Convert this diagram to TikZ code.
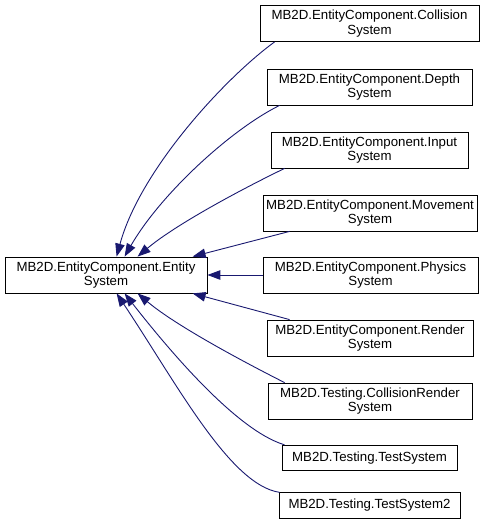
\documentclass[tikz,border=0pt]{standalone}
\usepackage{fontspec}
\setmainfont{Liberation Sans}
\usetikzlibrary{arrows.meta,calc}
\definecolor{edgeblue}{HTML}{191970}
\begin{document}
\begin{tikzpicture}[x=1bp,y=-1bp,
  box/.style={draw=black,line width=0.8bp,fill=white,inner sep=0pt,align=center,
    font=\fontsize{13.3}{14.5}\selectfont,minimum height=36bp},
  onebox/.style={box,minimum height=25.5bp},
  edge/.style={draw=edgeblue,line width=0.9bp,{Triangle[length=13bp,width=9.5bp]}-}]
\useasboundingbox (0,0) rectangle (490,524);
\node[box,minimum width=202bp] (base) at (106,275) {MB2D.EntityComponent.Entity\\System};
\node[box,minimum width=219bp] (c1) at (369.5,23.5) {MB2D.EntityComponent.Collision\\System};
\node[box,minimum width=205bp] (c2) at (369.5,87) {MB2D.EntityComponent.Depth\\System};
\node[box,minimum width=197bp] (c3) at (369.5,150) {MB2D.EntityComponent.Input\\System};
\node[box,minimum width=214bp] (c4) at (370,213) {MB2D.EntityComponent.Movement\\System};
\node[box,minimum width=215bp] (c5) at (370.5,275) {MB2D.EntityComponent.Physics\\System};
\node[box,minimum width=206bp] (c6) at (370,338) {MB2D.EntityComponent.Render\\System};
\node[box,minimum width=204bp] (c7) at (370,401) {MB2D.Testing.CollisionRender\\System};
\node[onebox,minimum width=175bp] (c8) at (369.5,458) {MB2D.Testing.TestSystem};
\node[onebox,minimum width=181bp] (c9) at (369.5,505.5) {MB2D.Testing.TestSystem2};
% top edges
\draw[edge] ($(base.north west)+(112,0)$) .. controls (140,170) and (225,78) .. ($(c1.south west)+(15,0)$);
\draw[edge] ($(base.north west)+(120,0)$) .. controls (160,195) and (230,130) .. ($(c2.south west)+(13,0)$);
\draw[edge] ($(base.north west)+(133,0)$) .. controls (175,225) and (240,190) .. ($(c3.south west)+(14,0)$);
\draw[edge] ($(base.north west)+(188,0)$) -- ($(c4.south west)+(27,0)$);
\draw[edge] (base.east) -- (c5.west);
% bottom edges
\draw[edge] ($(base.south west)+(188,0)$) -- ($(c6.north west)+(23,0)$);
\draw[edge] ($(base.south west)+(133,0)$) .. controls (175,325) and (240,360) .. ($(c7.north west)+(17,0)$);
\draw[edge] ($(base.south west)+(120,0)$) .. controls (165,345) and (235,430) .. ($(c8.north west)+(3,0)$);
\draw[edge] ($(base.south west)+(112,0)$) .. controls (177,384) and (230,485) .. ($(c9.north west)+(1,0)$);
\end{tikzpicture}
\end{document}
